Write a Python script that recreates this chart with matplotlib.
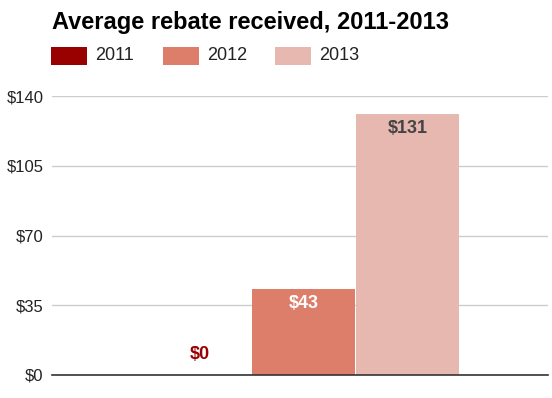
import matplotlib
matplotlib.use("Agg")
import matplotlib.pyplot as plt
from matplotlib.patches import Rectangle

plt.rcParams['font.family'] = ['Liberation Sans', 'DejaVu Sans']

years = ['2011', '2012', '2013']
rebates = [0, 43, 131]
colors = ['#990000', '#dd7e6b', '#e6b8af']
label_colors = ['#990000', '#ffffff', '#444444']
yticks = [0, 35, 70, 105, 140]

W, H = 552, 398
fig = plt.figure(figsize=(W / 100, H / 100), dpi=100)
ax = fig.add_axes([52 / W, 1 - 375 / H, 496 / W, 279 / H])

bar_w = 103
x0 = 148
for i, (yr, val) in enumerate(zip(years, rebates)):
    left = x0 + i * (bar_w + 1)
    ax.bar(left, val, width=bar_w, align='edge', color=colors[i], zorder=2)
    lab = '$' + str(val)
    if val > 10:
        ax.text(left + bar_w / 2, val - 3, lab, ha='center', va='top',
                fontsize=13, fontweight='bold', color=label_colors[i], zorder=3)
    else:
        ax.text(left + bar_w / 2, val + 10.5, lab, ha='center', va='center',
                fontsize=13, fontweight='bold', color=label_colors[i], zorder=3)

ax.set_xlim(52, 548)
ax.set_ylim(0, 140)
ax.set_yticks(yticks)
ax.set_yticklabels(['$' + str(t) for t in yticks], fontsize=12, color='#222222')
ax.set_xticks([])
ax.grid(axis='y', color='#cccccc', linewidth=1, zorder=0)
for s in ['top', 'right', 'left']:
    ax.spines[s].set_visible(False)
ax.spines['bottom'].set_color('#333333')
ax.spines['bottom'].set_linewidth(1.2)
ax.spines['bottom'].set_zorder(4)
ax.tick_params(axis='y', length=0, pad=6)

fig.text(52 / W, 1 - 23 / H, 'Average rebate received, 2011-2013',
         fontsize=17, fontweight='bold', ha='left', va='center', color='#000000')

# legend drawn by hand
for i, (yr, c) in enumerate(zip(years, colors)):
    lx = 51 + i * 112
    fig.patches.append(Rectangle((lx / W, 1 - 65 / H), 36 / W, 18 / H,
                                 transform=fig.transFigure, facecolor=c, edgecolor='none'))
    fig.text((lx + 44) / W, 1 - 56 / H, yr, fontsize=13, ha='left', va='center',
             color='#222222')

fig.savefig('out.png', dpi=100)
